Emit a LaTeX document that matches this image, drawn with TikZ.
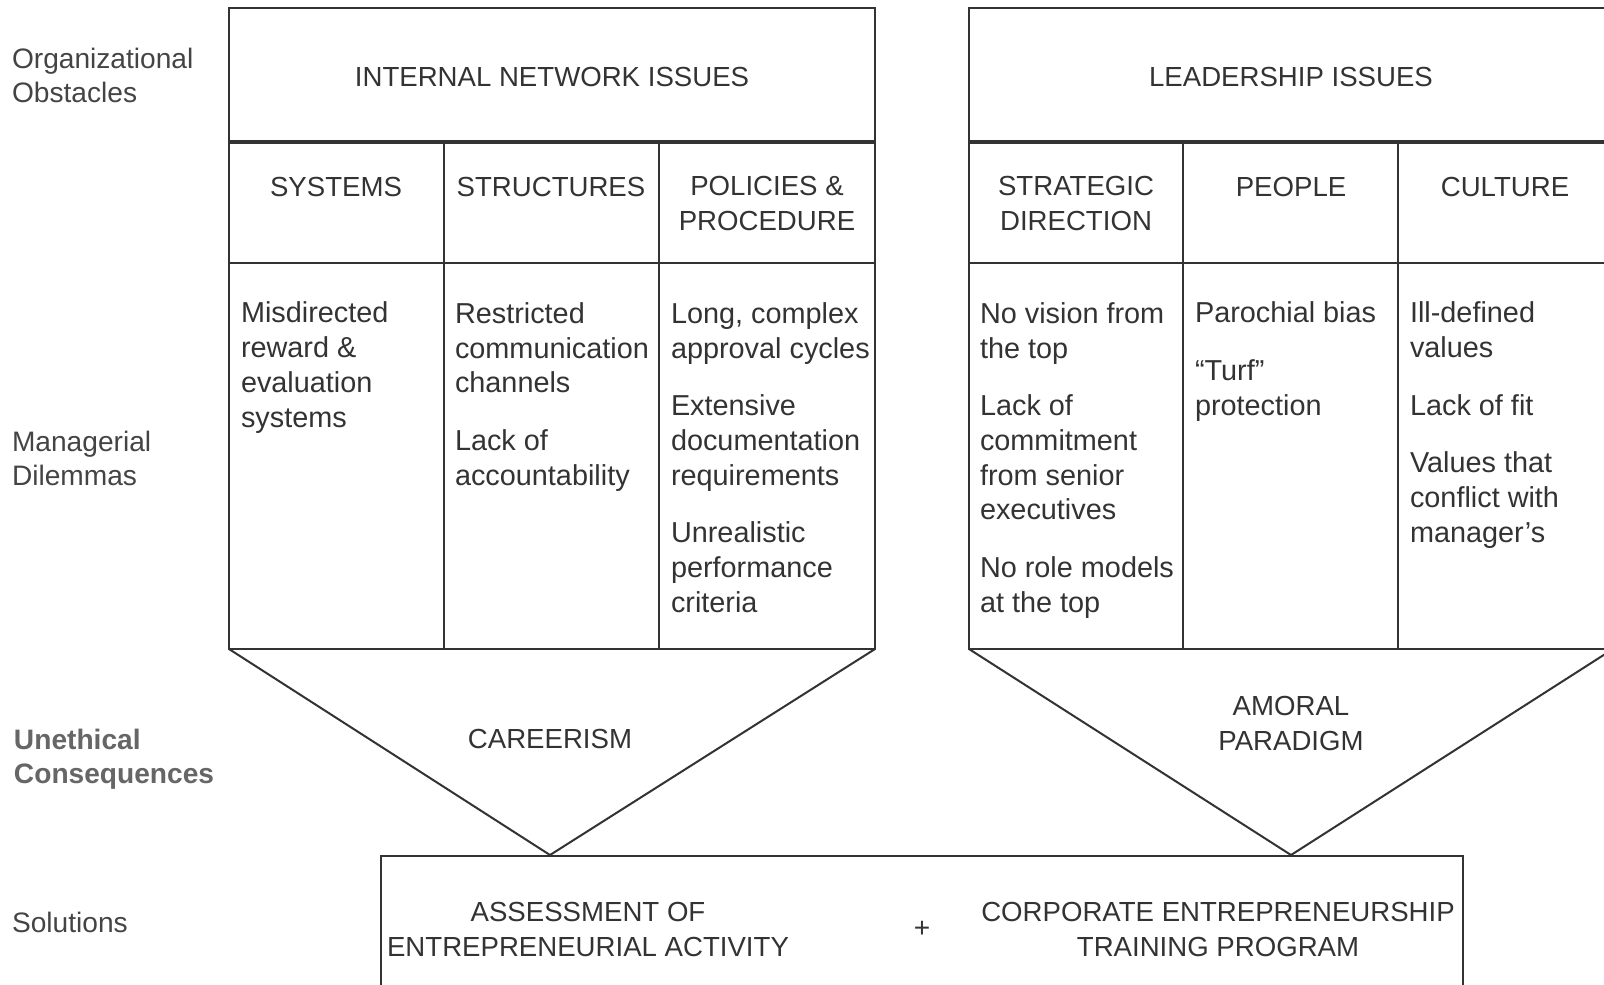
\documentclass[tikz,border=0pt]{standalone}
\usepackage{fontspec}
\setmainfont{Liberation Sans}
\definecolor{ink}{HTML}{333333}
\definecolor{lab}{HTML}{444444}
\definecolor{blab}{HTML}{666666}
\begin{document}
\begin{tikzpicture}[x=0.01cm,y=-0.01cm,
  every node/.style={inner sep=0pt, outer sep=0pt, text=ink},
  box/.style={draw=ink, line width=0.57pt},
  sep/.style={draw=ink, line width=0.9pt},
  capt/.style={font=\fontsize{7.85}{9.7}\selectfont, align=center, anchor=base},
  body/.style={font=\fontsize{8.2}{9.9}\selectfont, align=left, anchor=base west},
  side/.style={font=\fontsize{8}{9.6}\selectfont, align=left, anchor=base west, text=lab},
  sideb/.style={font=\fontsize{8}{9.6}\selectfont\bfseries, align=left, anchor=base west, text=blab}]
\useasboundingbox (0,0) rectangle (1604,984);
% coordinates
\coordinate (A1) at (229,8);   \coordinate (A2) at (875,8);
\coordinate (A3) at (229,649); \coordinate (A4) at (875,649);
\coordinate (Aap) at (550,855);
\coordinate (B1) at (969,8);   \coordinate (B2) at (1613,8);
\coordinate (B3) at (969,649); \coordinate (B4) at (1613,649);
\coordinate (Bap) at (1291,855);
\coordinate (S1) at (381,1000); \coordinate (S2) at (381,856);
\coordinate (S3) at (1463,856); \coordinate (S4) at (1463,1000);
% left block
\draw[box] (A1) rectangle (A4);
\draw[sep] (229,142) -- (875,142);
\draw[box] (229,263) -- (875,263);
\draw[box] (444,142) -- (444,649);
\draw[box] (659,142) -- (659,649);
% right block
\draw[box] (B2) -- (B1) -- (B3) -- (B4);
\draw[sep] (969,142) -- (1613,142);
\draw[box] (969,263) -- (1613,263);
\draw[box] (1183,142) -- (1183,649);
\draw[box] (1398,142) -- (1398,649);
% funnels
\draw[box] (A3) -- (Aap) -- (A4);
\draw[box] (B3) -- (Bap) -- (B4);
% solutions box
\draw[box] (S1) -- (S2) -- (S3) -- (S4);
% headers (anchor = baseline of last line)
\node[capt] (h1) at (552,86) {INTERNAL NETWORK ISSUES};
\node[capt] (h2) at (1291,86) {LEADERSHIP ISSUES};
\node[capt] (s1) at (336,196) {SYSTEMS};
\node[capt] (s2) at (551,196) {STRUCTURES};
\node[capt] (s3) at (767,230) {POLICIES \&\\PROCEDURE};
\node[capt] (s4) at (1076,230) {STRATEGIC\\DIRECTION};
\node[capt] (s5) at (1291,196) {PEOPLE};
\node[capt] (s6) at (1505,196) {CULTURE};
% body cells
\node[body] (c1) at (241,427) {Misdirected\\reward \&\\evaluation\\systems};
\node[body] (c2) at (455,485) {Restricted\\communication\\channels\\[6.4pt]Lack of\\accountability};
\node[body] (c3) at (671,612) {Long, complex\\approval cycles\\[6.4pt]Extensive\\documentation\\requirements\\[6.4pt]Unrealistic\\performance\\criteria};
\node[body] (c4) at (980,612) {No vision from\\the top\\[6.4pt]Lack of\\commitment\\from senior\\executives\\[6.4pt]No role models\\at the top};
\node[body] (c5) at (1195,415) {Parochial bias\\[6.4pt]“Turf”\\protection};
\node[body] (c6) at (1410,542) {Ill-defined\\values\\[6.4pt]Lack of fit\\[6.4pt]Values that\\conflict with\\manager’s};
% consequences
\node[capt] (k1) at (550,748) {CAREERISM};
\node[capt] (k2) at (1291,750) {AMORAL\\PARADIGM};
% solutions
\node[capt] (z1) at (588,956) {ASSESSMENT OF\\ENTREPRENEURIAL ACTIVITY};
\node[font=\fontsize{8}{9.7}\selectfont] (plus) at (922,929) {+};
\node[capt] (z2) at (1218,956) {CORPORATE ENTREPRENEURSHIP\\TRAINING PROGRAM};
% side labels
\node[side] (l1) at (12,102) {Organizational\\Obstacles};
\node[side] (l2) at (12,485) {Managerial\\Dilemmas};
\node[sideb] (l3) at (14,783) {Unethical\\Consequences};
\node[side] (l4) at (12,932) {Solutions};
\end{tikzpicture}
\end{document}
